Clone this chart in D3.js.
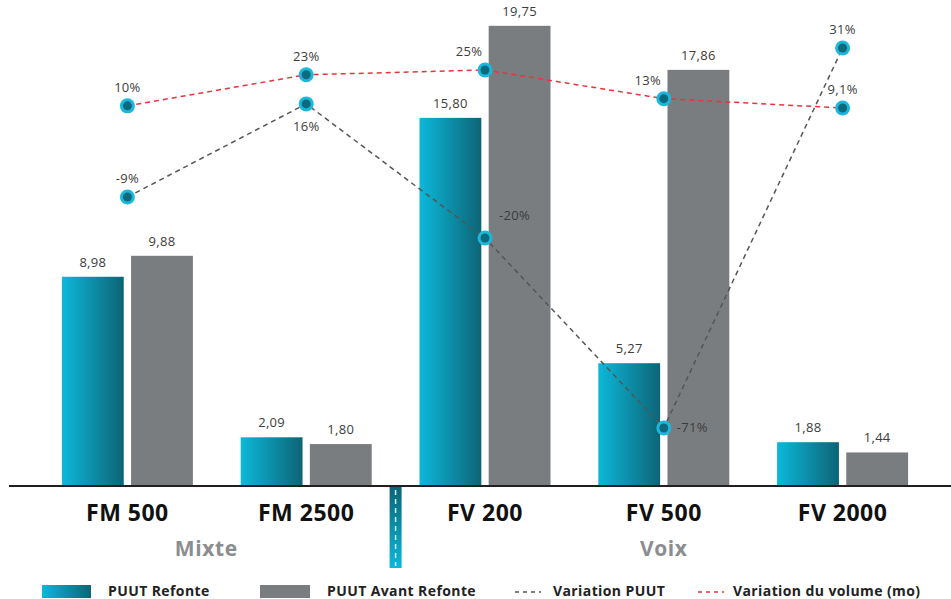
<script src="https://d3js.org/d3.v7.min.js"></script>
<style>
body {margin: 0; background: #fff;}
* {font-family: "Open Sans";}
</style>
<div id="chart"></div>
<script type="text/javascript">
// data
var categories = ["FM 500", "FM 2500", "FV 200", "FV 500", "FV 2000"];
var puutRefonte = [8.98, 2.09, 15.80, 5.27, 1.88];
var puutAvant = [9.88, 1.80, 19.75, 17.86, 1.44];
var variationPuut = [-9, 16, -20, -71, 31];
var variationVolume = [10, 23, 25, 13, 9.1];
var groups = ["Mixte", "Voix"];
var legendLabels = ["PUUT Refonte", "PUUT Avant Refonte", "Variation PUUT", "Variation du volume (mo)"];

var width = 951;
var height = 599;
var baseY = 486;
var gray = "#7a7d80";

var svg = d3.select("#chart").append("svg")
	.attr("width", width)
	.attr("height", height);

var defs = svg.append("defs");
var grad = defs.append("linearGradient").attr("id", "tealGrad")
	.attr("x1", "0%").attr("x2", "100%").attr("y1", "0%").attr("y2", "0%");
grad.append("stop").attr("offset", "0%").attr("stop-color", "#0cb8da");
grad.append("stop").attr("offset", "100%").attr("stop-color", "#0d6476");

var gradV = defs.append("linearGradient").attr("id", "sepGrad")
	.attr("x1", "0%").attr("x2", "0%").attr("y1", "0%").attr("y2", "100%");
gradV.append("stop").attr("offset", "0%").attr("stop-color", "#0d6476");
gradV.append("stop").attr("offset", "100%").attr("stop-color", "#0cb8da");

// scales
var x0 = d3.scaleBand().domain(categories).range([38, 932]);
var x1 = d3.scaleBand().domain(["refonte", "avant"]).range([0, 131]).paddingInner(0.106);
var y = d3.scaleLinear().domain([0, 20]).range([baseY, 20]);
var yPuut = d3.scaleLinear().domain([-71, 31]).range([428, 48]);
var yVol = d3.scaleLinear().domain([9.1, 25]).range([108, 70]);

var fmt = d3.formatLocale({decimal: ",", thousands: " ", grouping: [3], currency: ["", "€"]}).format(".2f");
function pct(v) { return String(v).replace(".", ",") + "%"; }

function cx(c) { return x0(c) + x0.bandwidth() / 2; }
function gx(c) { return cx(c) - 65.5; }

// bars
var rows = categories.map(function(c, i) {
	return {cat: c, refonte: puutRefonte[i], avant: puutAvant[i]};
});

["refonte", "avant"].forEach(function(key) {
	svg.selectAll(".bar-" + key).data(rows).enter().append("rect")
		.attr("x", function(d) { return gx(d.cat) + x1(key); })
		.attr("y", function(d) { return y(d[key]); })
		.attr("width", x1.bandwidth())
		.attr("height", function(d) { return baseY - y(d[key]); })
		.attr("fill", key == "refonte" ? "url(#tealGrad)" : gray);

	svg.selectAll(".val-" + key).data(rows).enter().append("text")
		.attr("x", function(d) { return gx(d.cat) + x1(key) + x1.bandwidth() / 2; })
		.attr("y", function(d) { return y(d[key]) - 10; })
		.attr("text-anchor", "middle")
		.attr("font-size", 13)
		.attr("letter-spacing", 0.3)
		.attr("fill", "#3c3c3c")
		.text(function(d) { return fmt(d[key]); });
});

// axis line
svg.append("line")
	.attr("x1", 9).attr("x2", width)
	.attr("y1", baseY).attr("y2", baseY)
	.attr("stroke", "#231f20")
	.attr("stroke-width", 2);

// separator between Mixte and Voix
var sepX = x0(categories[2]);
svg.append("rect")
	.attr("x", sepX - 6).attr("y", baseY + 1)
	.attr("width", 12).attr("height", 81)
	.attr("fill", "url(#sepGrad)");
svg.append("line")
	.attr("x1", sepX).attr("x2", sepX)
	.attr("y1", baseY + 4).attr("y2", baseY + 80)
	.attr("stroke", "#cfeff6")
	.attr("stroke-width", 1.5)
	.attr("stroke-dasharray", "5,4");

// category labels
svg.selectAll(".cat").data(categories).enter().append("text")
	.attr("x", function(d) { return cx(d); })
	.attr("y", 521)
	.attr("text-anchor", "middle")
	.attr("font-size", 23)
	.attr("letter-spacing", 0.5)
	.attr("font-weight", "bold")
	.attr("fill", "#111")
	.text(function(d) { return d; });

// group labels
svg.append("text")
	.attr("x", (9 + sepX) / 2 + 4).attr("y", 556)
	.attr("text-anchor", "middle")
	.attr("font-size", 21).attr("font-weight", "bold")
	.attr("letter-spacing", 0.6)
	.attr("fill", "#8b8d90")
	.text(groups[0]);
svg.append("text")
	.attr("x", cx(categories[3])).attr("y", 556)
	.attr("text-anchor", "middle")
	.attr("font-size", 21).attr("font-weight", "bold")
	.attr("letter-spacing", 0.6)
	.attr("fill", "#8b8d90")
	.text(groups[1]);

// lines
function drawLine(values, scale, color) {
	var line = d3.line()
		.x(function(d, i) { return cx(categories[i]); })
		.y(function(d) { return scale(d); });
	svg.append("path")
		.datum(values)
		.attr("d", line)
		.attr("fill", "none")
		.attr("stroke", color)
		.attr("stroke-width", 1.5)
		.attr("stroke-dasharray", "5,4");
}
drawLine(variationPuut, yPuut, "#555");
drawLine(variationVolume, yVol, "#e8333c");

function drawMarkers(values, scale, placement) {
	values.forEach(function(v, i) {
		var px = cx(categories[i]);
		var py = scale(v);
		svg.append("circle").attr("cx", px).attr("cy", py).attr("r", 7.5).attr("fill", "#1bb8dc");
		svg.append("circle").attr("cx", px).attr("cy", py).attr("r", 4.5).attr("fill", "#0d6a7e");
		var tx = px, ty = py - 14, anchor = "middle";
		if (placement[i] == "below") { ty = py + 27; }
		if (placement[i] == "right") { tx = px + 14; ty = py - 18; anchor = "start"; }
		if (placement[i] == "rightMid") { tx = px + 13; ty = py + 4; anchor = "start"; }
		if (placement[i] == "aboveLeft") { tx = px - 16; ty = py - 14; }
		svg.append("text")
			.attr("x", tx).attr("y", ty)
			.attr("text-anchor", anchor)
			.attr("font-size", 13)
			.attr("letter-spacing", 0.3)
			.attr("fill", "#3c3c3c")
			.text(pct(v));
	});
}
drawMarkers(variationPuut, yPuut, ["above", "below", "right", "rightMid", "above"]);
drawMarkers(variationVolume, yVol, ["above", "above", "aboveLeft", "aboveLeft", "above"]);

// legend
var ly = 585;
svg.append("rect").attr("x", 42).attr("y", ly).attr("width", 49).attr("height", 13).attr("fill", "url(#tealGrad)");
svg.append("rect").attr("x", 260).attr("y", ly).attr("width", 50).attr("height", 13).attr("fill", gray);
svg.append("line").attr("x1", 515).attr("x2", 541).attr("y1", ly + 7).attr("y2", ly + 7)
	.attr("stroke", "#555").attr("stroke-width", 1.5).attr("stroke-dasharray", "4,4");
svg.append("line").attr("x1", 698).attr("x2", 724).attr("y1", ly + 7).attr("y2", ly + 7)
	.attr("stroke", "#e8333c").attr("stroke-width", 1.5).attr("stroke-dasharray", "4,4");

var legendX = [108, 327, 553, 733];
legendLabels.forEach(function(t, i) {
	svg.append("text")
		.attr("x", legendX[i]).attr("y", ly + 11)
		.attr("font-size", 14)
		.attr("letter-spacing", 0.4)
		.attr("font-weight", "bold")
		.attr("fill", "#222")
		.text(t);
});
</script>
